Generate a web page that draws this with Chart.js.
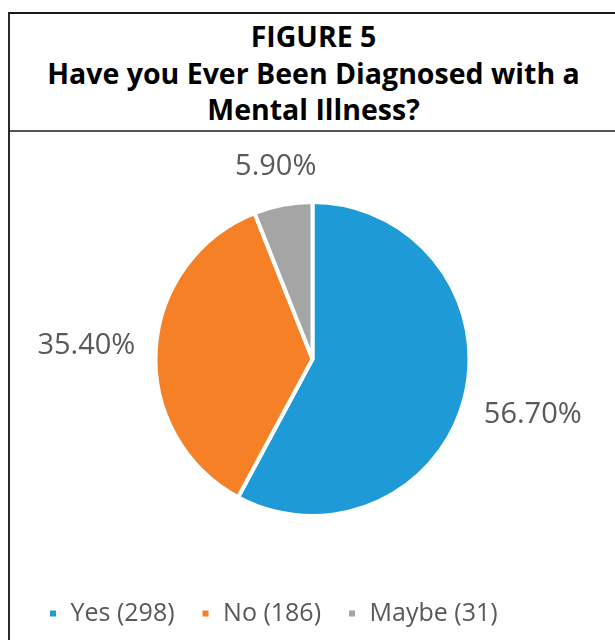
<!DOCTYPE html>
<html lang="en">
<head>
  <meta charset="UTF-8">
  <title>Figure 5</title>
  <script src="https://cdn.jsdelivr.net/npm/chart.js"></script>
  <style>
    body {
      margin: 0;
      width: 615px;
      height: 640px;
      overflow: hidden;
      background: #fff;
    }
    .frame {
      position: absolute;
      left: 8px;
      top: 12px;
      width: 607px;
      height: 660px;
      border-top: 2px solid #1a1a1a;
      border-left: 2px solid #2a2a2a;
    }
    .title {
      border-bottom: 2px solid #555;
      text-align: center;
      font-family: 'Open Sans', sans-serif;
      font-weight: 700;
      font-size: 28.5px;
      line-height: 36.5px;
      color: #000;
      padding-top: 4px;
      box-sizing: border-box;
      height: 118px;
    }
    .chart-box {
      position: relative;
      width: 605px;
      height: 518px;
    }
  </style>
</head>
<body>
  <div class="frame">
    <div class="title">FIGURE 5<br>Have you Ever Been Diagnosed with a<br>Mental Illness?</div>
    <div class="chart-box"><canvas id="pie"></canvas></div>
  </div>

  <script>
    const categories = ['Yes', 'No', 'Maybe'];
    const counts = [298, 186, 31];
    const percentLabels = ['56.70%', '35.40%', '5.90%'];
    const colors = ['#1e9bd7', '#f58025', '#a5a5a5'];

    // percent labels drawn just outside each slice
    const outsideLabels = {
      id: 'outsideLabels',
      afterDatasetsDraw(chart) {
        const ctx = chart.ctx;
        const arcs = chart.getDatasetMeta(0).data;
        ctx.save();
        ctx.font = '29px "Open Sans", sans-serif';
        ctx.fillStyle = '#595959';
        ctx.textAlign = 'center';
        ctx.textBaseline = 'middle';
        arcs.forEach((arc, i) => {
          const { x, y, startAngle, endAngle, outerRadius } = arc.getProps(['x', 'y', 'startAngle', 'endAngle', 'outerRadius'], true);
          const mid = (startAngle + endAngle) / 2;
          const dx = Math.cos(mid), dy = Math.sin(mid);
          const w = ctx.measureText(percentLabels[i]).width;
          const half = Math.abs(dx) * w / 2 + Math.abs(dy) * 11;
          const d = outerRadius + 20 + half;
          ctx.fillText(percentLabels[i], x + dx * d, y + dy * d);
        });
        ctx.restore();
      }
    };

    new Chart(document.getElementById('pie'), {
      type: 'pie',
      data: {
        labels: categories.map((c, i) => c + ' (' + counts[i] + ')'),
        datasets: [{
          data: counts,
          backgroundColor: colors,
          borderColor: '#fff',
          borderWidth: 4,
          radius: 157
        }]
      },
      options: {
        responsive: true,
        maintainAspectRatio: false,
        animation: false,
        layout: { padding: { top: 11, left: 12, right: 12, bottom: 14 } },
        plugins: {
          legend: {
            position: 'bottom',
            align: 'start',
            labels: {
              boxWidth: 10,
              boxHeight: 10,
              padding: 26,
              color: '#595959',
              font: { family: 'Open Sans', size: 25 }
            }
          },
          tooltip: { enabled: false }
        }
      },
      plugins: [outsideLabels]
    });
  </script>
</body>
</html>
